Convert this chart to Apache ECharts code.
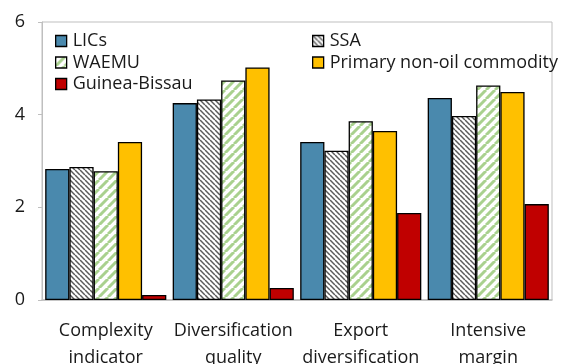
<!DOCTYPE html>
<html>
<head>
<meta charset="utf-8">
<script src="https://cdn.jsdelivr.net/npm/echarts@6/dist/echarts.min.js"></script>
<style>
  html, body { margin: 0; padding: 0; background: #fff; }
  #chart { width: 561px; height: 364px; }
</style>
</head>
<body>
<div id="chart"></div>
<script>
// Export diversification indicators by peer group
const categories = ['Complexity\nindicator', 'Diversification\nquality', 'Export\ndiversification', 'Intensive\nmargin'];
const yTicks = [0, 2, 4, 6];
const licValues = [2.83, 4.25, 3.41, 4.36];
const ssaValues = [2.87, 4.33, 3.22, 3.97];
const waemuValues = [2.78, 4.74, 3.86, 4.63];
const primaryValues = [3.41, 5.02, 3.65, 4.49];
const gbValues = [0.11, 0.26, 1.88, 2.07];

// Tiled fill for the hatched series
function makePattern(size, draw) {
  const c = document.createElement('canvas');
  c.width = size; c.height = size;
  const ctx = c.getContext('2d');
  ctx.fillStyle = '#ffffff';
  ctx.fillRect(0, 0, size, size);
  draw(ctx, size);
  return { image: c, repeat: 'repeat' };
}

// Gray downward diagonal hatch
const ssaFill = makePattern(5, (ctx, s) => {
  ctx.strokeStyle = '#5a5a5a';
  ctx.lineWidth = 1.5;
  for (let k = -1; k <= 1; k++) {
    ctx.beginPath();
    ctx.moveTo(k * s, 0);
    ctx.lineTo(k * s + s, s);
    ctx.stroke();
  }
});

// Wide light-green upward diagonal stripes
const waemuFill = makePattern(9, (ctx, s) => {
  ctx.strokeStyle = '#a9d18e';
  ctx.lineWidth = 3;
  for (let k = -1; k <= 1; k++) {
    ctx.beginPath();
    ctx.moveTo(k * s, s);
    ctx.lineTo(k * s + s, 0);
    ctx.stroke();
  }
});

const font = '"Open Sans", "Noto Sans", sans-serif';
const textColor = '#1a1a1a';

function barSeries(name, data, fill) {
  return {
    name: name,
    type: 'bar',
    data: data,
    barGap: '0%',
    barCategoryGap: '5%',
    itemStyle: { color: fill, borderColor: '#000', borderWidth: 1.3 }
  };
}

const chart = echarts.init(document.getElementById('chart'), null, { renderer: 'canvas' });
const legendBase = {
  orient: 'vertical',
  top: 27,
  icon: 'rect',
  itemWidth: 11,
  itemHeight: 11,
  itemGap: 3.5,
  itemStyle: { borderColor: '#000', borderWidth: 1.3 },
  textStyle: { fontFamily: font, fontSize: 18, color: textColor, padding: [0, 0, 0, 1] },
  selectedMode: false
};
chart.setOption({
  animation: false,
  textStyle: { fontFamily: font },
  grid: { left: 42, right: 9, top: 22, bottom: 64, show: true, borderColor: '#bfbfbf', borderWidth: 1,
          containLabel: false, outerBoundsMode: 'none' },
  legend: [
    Object.assign({}, legendBase, { left: 50, data: ['LICs', 'WAEMU', 'Guinea-Bissau'] }),
    Object.assign({}, legendBase, { left: 307, data: ['SSA', 'Primary non-oil commodity'] })
  ],
  xAxis: {
    type: 'category',
    data: categories,
    axisLine: { lineStyle: { color: '#bfbfbf', width: 1.5 } },
    axisTick: { show: false },
    axisLabel: { fontFamily: font, fontSize: 18, color: textColor, lineHeight: 27, margin: 17, interval: 0 }
  },
  yAxis: {
    type: 'value',
    min: yTicks[0],
    max: yTicks[yTicks.length - 1],
    interval: 2,
    splitLine: { show: false },
    axisLine: { show: true, lineStyle: { color: '#bfbfbf' } },
    axisTick: { show: true, length: 4, lineStyle: { color: '#bfbfbf' } },
    axisLabel: { fontFamily: font, fontSize: 18, color: textColor, margin: 17 }
  },
  series: [
    barSeries('LICs', licValues, '#4a89ad'),
    barSeries('SSA', ssaValues, ssaFill),
    barSeries('WAEMU', waemuValues, waemuFill),
    barSeries('Primary non-oil commodity', primaryValues, '#ffc000'),
    barSeries('Guinea-Bissau', gbValues, '#c00000')
  ]
});
</script>
</body>
</html>
